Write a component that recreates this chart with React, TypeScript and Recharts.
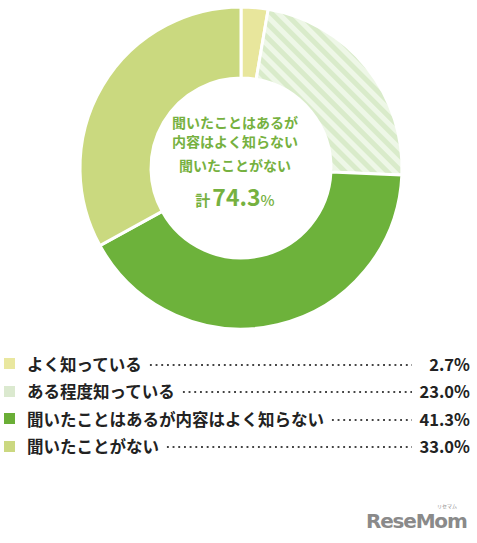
import React from 'react';
import { PieChart, Pie, Cell } from 'recharts';

const CATEGORIES = [
  'よく知っている',
  'ある程度知っている',
  '聞いたことはあるが内容はよく知らない',
  '聞いたことがない',
];
const VALUES = [2.7, 23.0, 41.3, 33.0];
const COLORS = ['#e8e69c', 'url(#stripes)', '#6db23b', '#cad97f'];
const LEGEND_COLORS = ['#e9e79f', '#dbe9cf', '#6aae36', '#cbd880'];
const CENTER_LINES = ['聞いたことはあるが', '内容はよく知らない', '聞いたことがない'];
const TOTAL_LABEL = { prefix: '計', value: '74.3', unit: '%' };

const FONT = '"Noto Sans CJK JP", "Noto Sans", sans-serif';
const GREEN_TEXT = '#76b13f';

const data = CATEGORIES.map((name, i) => ({ name, value: VALUES[i] }));

const App: React.FC = () => {
  return (
    <div
      style={{
        position: 'absolute',
        left: 0,
        top: 0,
        width: 477,
        height: 543,
        background: '#fff',
        fontFamily: FONT,
        overflow: 'hidden',
      }}
    >
      <svg width={0} height={0} style={{ position: 'absolute' }}>
        <defs>
          <pattern
            id="stripes"
            patternUnits="userSpaceOnUse"
            width={10}
            height={10}
            patternTransform="rotate(-45)"
          >
            <rect x={0} y={0} width={10} height={10} fill="#eef7e7" />
            <rect x={0} y={0} width={5} height={10} fill="#d9ebca" />
          </pattern>
        </defs>
      </svg>

      <div style={{ position: 'absolute', left: 0, top: 0 }}>
        <PieChart width={477} height={330}>
          <Pie
            data={data}
            dataKey="value"
            cx={236}
            cy={163}
            innerRadius={90}
            outerRadius={161}
            startAngle={90}
            endAngle={-270}
            stroke="#fff"
            strokeWidth={3}
            isAnimationActive={false}
          >
            {data.map((entry, index) => (
              <Cell key={`cell-${index}`} fill={COLORS[index]} />
            ))}
          </Pie>
        </PieChart>
      </div>

      {/* center text */}
      <div
        style={{
          position: 'absolute',
          left: 135,
          width: 200,
          top: 113,
          textAlign: 'center',
          color: GREEN_TEXT,
          fontWeight: 700,
          fontSize: 14,
          lineHeight: '19px',
        }}
      >
        <div>{CENTER_LINES[0]}</div>
        <div>{CENTER_LINES[1]}</div>
        <div style={{ marginTop: 5 }}>{CENTER_LINES[2]}</div>
        <div style={{ marginTop: 8, lineHeight: '26px' }}>
          <span style={{ fontSize: 15 }}>{TOTAL_LABEL.prefix}</span>
          <span style={{ fontSize: 23, marginLeft: 2 }}>{TOTAL_LABEL.value}</span>
          <span style={{ fontSize: 15, fontWeight: 500 }}>{TOTAL_LABEL.unit}</span>
        </div>
      </div>

      {/* legend */}
      <div style={{ position: 'absolute', left: 4, top: 350, width: 466 }}>
        {data.map((d, i) => (
          <div
            key={d.name}
            style={{
              display: 'flex',
              alignItems: 'center',
              height: 27.5,
              fontSize: 16.5,
              fontWeight: 700,
              color: '#222',
            }}
          >
            <span
              style={{
                width: 11,
                height: 11,
                background: LEGEND_COLORS[i],
                flex: '0 0 auto',
              }}
            />
            <span style={{ marginLeft: 12, whiteSpace: 'nowrap' }}>{d.name}</span>
            <span
              style={{
                flex: 1,
                height: 4,
                margin: '2px 0 0 6px',
                backgroundImage:
                  'radial-gradient(circle, #444 1px, transparent 1.4px)',
                backgroundSize: '5.7px 4px',
                backgroundRepeat: 'repeat-x',
              }}
            />
            <span
              style={{
                whiteSpace: 'nowrap',
                width: 58,
                textAlign: 'right',
                flex: '0 0 auto',
              }}
            >
              {d.value.toFixed(1)}%
            </span>
          </div>
        ))}
      </div>

      {/* watermark */}
      <div
        style={{
          position: 'absolute',
          left: 366,
          top: 509,
          color: '#8a8a8a',
          fontFamily: '"DejaVu Sans", sans-serif',
          fontWeight: 700,
          fontSize: 20,
          letterSpacing: -1.2,
        }}
      >
        ReseMom
      </div>
      <div
        style={{
          position: 'absolute',
          left: 437,
          top: 503,
          color: '#8a8a8a',
          fontSize: 5,
          lineHeight: '6px',
          fontFamily: FONT,
        }}
      >
        リセマム
      </div>
    </div>
  );
};

export default App;
